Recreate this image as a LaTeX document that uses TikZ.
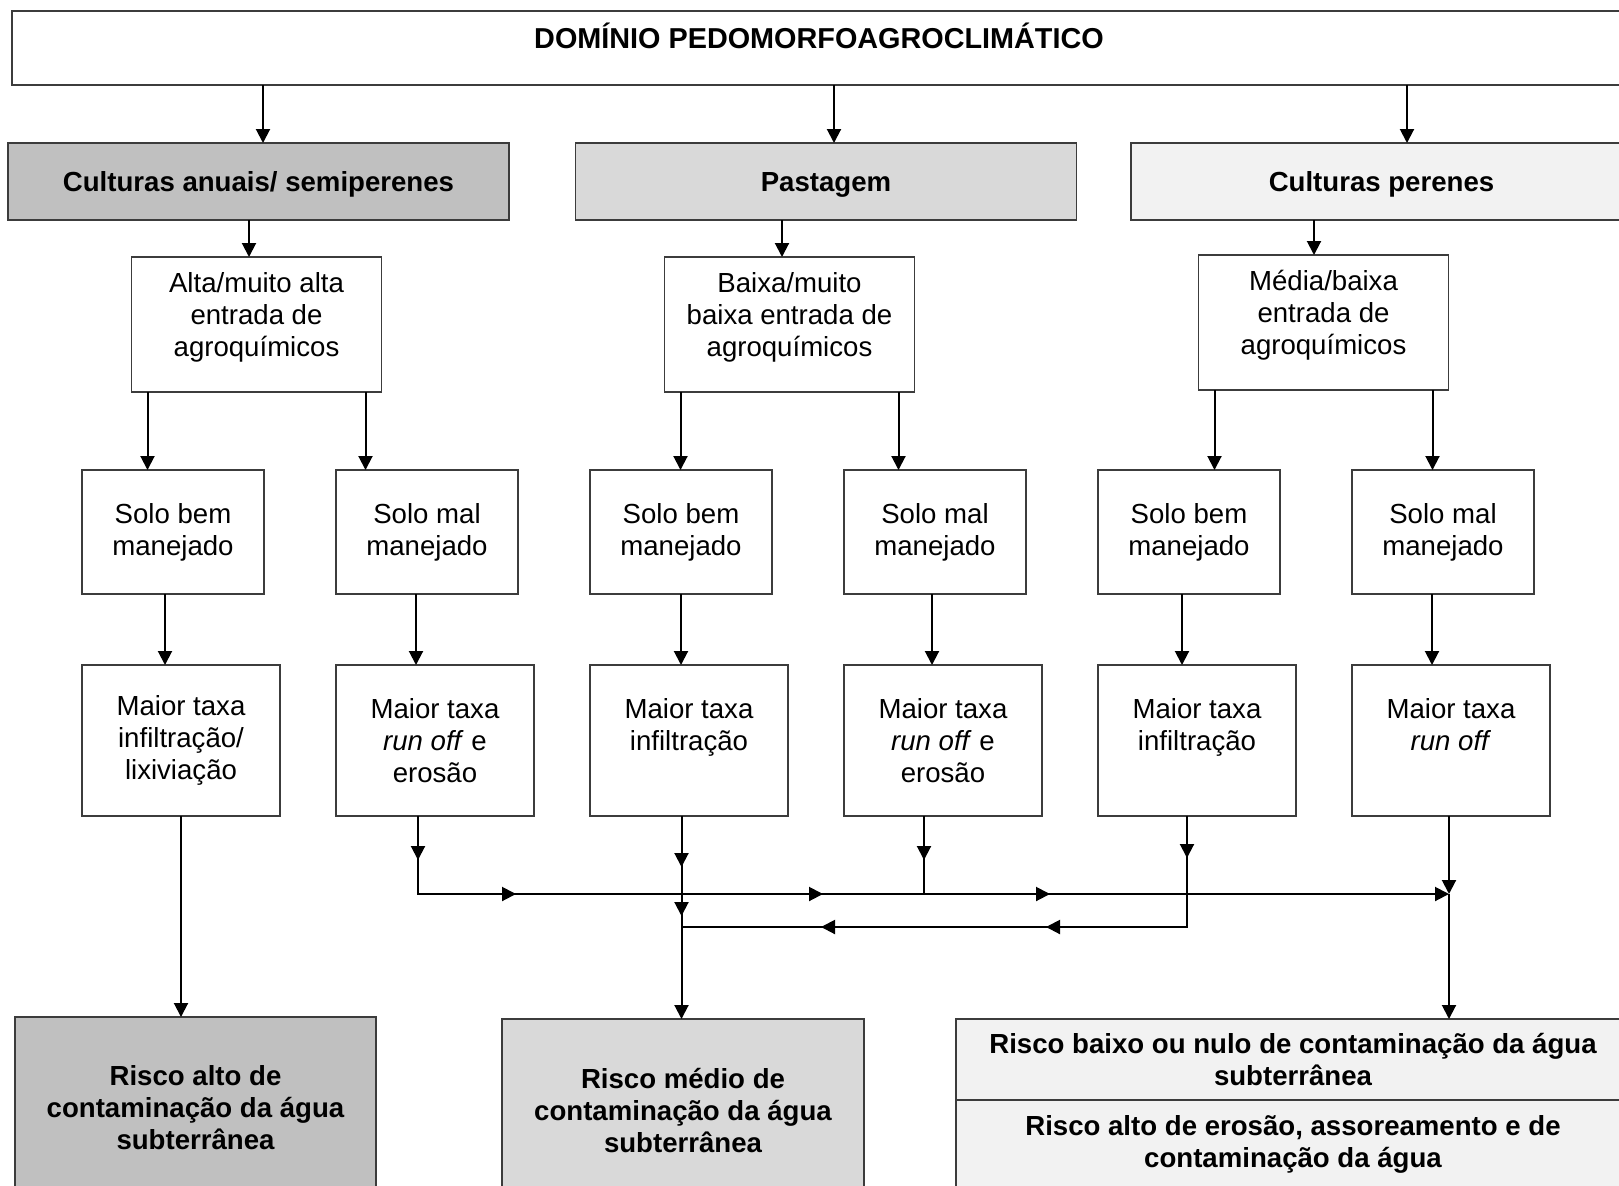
\documentclass[tikz,border=0pt]{standalone}
\usepackage{fontspec}
\setmainfont{Liberation Sans}
\usetikzlibrary{arrows.meta,positioning,decorations.markings}
\definecolor{edgegray}{RGB}{60,60,60}
\definecolor{riskhigh}{RGB}{192,192,192}
\definecolor{riskmid}{RGB}{217,217,217}
\definecolor{risklow}{RGB}{242,242,242}
\tikzset{
  box/.style={
    rectangle,
    draw=edgegray,
    line width=0.9pt,
    fill=white,
    align=center,
    outer sep=0pt,
    inner sep=2pt,
    font=\fontsize{13.8}{16}\selectfont
  },
  topbox/.style={
    box,
    font=\fontsize{14.4}{16}\selectfont\bfseries,
    minimum width=807pt,
    minimum height=37pt,
    text height=10pt,
    text depth=10pt
  },
  landuse/.style={
    box,
    font=\fontsize{13.8}{16}\selectfont\bfseries,
    minimum width=250.5pt,
    minimum height=38.5pt,
    text height=10pt,
    text depth=0pt
  },
  inbox/.style={box, minimum width=125pt, minimum height=67.5pt, text depth=10pt},
  solobox/.style={box, minimum width=91pt, minimum height=62pt},
  taxabox/.style={box, minimum width=99pt, minimum height=75.5pt},
  riskbox/.style={
    box,
    font=\fontsize{13.8}{16}\selectfont\bfseries,
    minimum width=180.5pt,
    minimum height=91pt
  },
  link/.style={line width=1pt},
  arrow/.style={link, -{Triangle[length=7pt,width=7pt]}},
  tipat/.style={postaction={decorate, decoration={markings,
    mark=at position #1 with {\arrow{Triangle[length=7pt,width=7pt]}}}}}
}

\begin{document}
\begin{tikzpicture}[x=0.5pt, y=-0.5pt]
    \useasboundingbox (0,0) rectangle (1619,1185);

    \node[topbox] (top) at (819,48) {DOMÍNIO PEDOMORFOAGROCLIMÁTICO};

    \node[landuse, fill=riskhigh] (anual) at (258.5,181.5) {Culturas anuais/ semiperenes};
    \node[landuse, fill=riskmid] (pastagem) at (826,181.5) {Pastagem};
    \node[landuse, fill=risklow] (perenes) at (1381.5,181.5) {Culturas perenes};

    \node[inbox, below=18.5pt of anual, xshift=-1pt] (alta) {Alta/muito alta\\entrada de\\agroquímicos};
    \node[inbox, below=18.5pt of pastagem, xshift=-18.25pt] (baixa) {Baixa/muito\\baixa entrada de\\agroquímicos};
    \node[inbox, below=17.5pt of perenes, xshift=-29pt] (media) {Média/baixa\\entrada de\\agroquímicos};

    \node[solobox] (solo1) at (173,532) {Solo bem\\manejado};
    \node[solobox, right=36pt of solo1] (solo2) {Solo mal\\manejado};
    \node[solobox, right=36pt of solo2] (solo3) {Solo bem\\manejado};
    \node[solobox, right=36pt of solo3] (solo4) {Solo mal\\manejado};
    \node[solobox, right=36pt of solo4] (solo5) {Solo bem\\manejado};
    \node[solobox, right=36pt of solo5] (solo6) {Solo mal\\manejado};

    \node[taxabox, below=35.5pt of solo1.south west, anchor=north west] (taxa1) {Maior taxa\\infiltração/\\lixiviação};
    \node[taxabox, below=35.5pt of solo2.south west, anchor=north west] (taxa2) {Maior taxa\\\textit{run off} e\\erosão};
    \node[taxabox, below=35.5pt of solo3.south west, anchor=north west] (taxa3) {Maior taxa\\infiltração\\\mbox{}};
    \node[taxabox, below=35.5pt of solo4.south west, anchor=north west] (taxa4) {Maior taxa\\\textit{run off} e\\erosão};
    \node[taxabox, below=35.5pt of solo5.south west, anchor=north west] (taxa5) {Maior taxa\\infiltração\\\mbox{}};
    \node[taxabox, below=35.5pt of solo6.south west, anchor=north west] (taxa6) {Maior taxa\\\textit{run off}\\\mbox{}};

    \node[riskbox, fill=riskhigh] (alto) at (195.5,1108) {Risco alto de\\contaminação da água\\subterrânea};
    \node[riskbox, fill=riskmid, minimum width=181pt] (medio) at (683,1110) {Risco médio de\\contaminação da água\\subterrânea};
    \node[riskbox, fill=risklow, minimum width=337pt, minimum height=40.5pt] (baixo) at (1293,1059.5) {Risco baixo ou nulo de contaminação da água\\subterrânea};
    \node[riskbox, fill=risklow, minimum width=337pt, minimum height=44pt, below=0pt of baixo] (erosao) {Risco alto de erosão, assoreamento e de\\contaminação da água};

    \coordinate (runoff) at ([xshift=-1pt,yshift=-39pt]taxa6.south);
    \coordinate (infil) at ([xshift=-3.75pt,yshift=-55.5pt]taxa3.south);

    % dominio -> uso
    \draw[arrow] ([xshift=2.25pt]anual.north |- top.south) -- ([xshift=2.25pt]anual.north);
    \draw[arrow] ([xshift=4pt]pastagem.north |- top.south) -- ([xshift=4pt]pastagem.north);
    \draw[arrow] ([xshift=12.75pt]perenes.north |- top.south) -- ([xshift=12.75pt]perenes.north);

    \draw[arrow] ([xshift=-3.75pt]alta.north |- anual.south) -- ([xshift=-3.75pt]alta.north);
    \draw[arrow] ([xshift=-3.75pt]baixa.north |- pastagem.south) -- ([xshift=-3.75pt]baixa.north);
    \draw[arrow] ([xshift=-4.75pt]media.north |- perenes.south) -- ([xshift=-4.75pt]media.north);

    \draw[arrow] ([xshift=-54.5pt]alta.south) -- ([xshift=-54.5pt]alta.south |- solo1.north);
    \draw[arrow] ([xshift=54.5pt]alta.south) -- ([xshift=54.5pt]alta.south |- solo2.north);
    \draw[arrow] ([xshift=-54.5pt]baixa.south) -- ([xshift=-54.5pt]baixa.south |- solo3.north);
    \draw[arrow] ([xshift=54.5pt]baixa.south) -- ([xshift=54.5pt]baixa.south |- solo4.north);
    \draw[arrow] ([xshift=-54.5pt]media.south) -- ([xshift=-54.5pt]media.south |- solo5.north);
    \draw[arrow] ([xshift=54.5pt]media.south) -- ([xshift=54.5pt]media.south |- solo6.north);

    \draw[arrow] ([xshift=-4pt]solo1.south) -- ([xshift=-4pt]solo1.south |- taxa1.north);
    \draw[arrow] ([xshift=-5.5pt]solo2.south) -- ([xshift=-5.5pt]solo2.south |- taxa2.north);
    \draw[arrow] (solo3.south) -- (solo3.south |- taxa3.north);
    \draw[arrow] ([xshift=-1.5pt]solo4.south) -- ([xshift=-1.5pt]solo4.south |- taxa4.north);
    \draw[arrow] ([xshift=-3.5pt]solo5.south) -- ([xshift=-3.5pt]solo5.south |- taxa5.north);
    \draw[arrow] ([xshift=-5.5pt]solo6.south) -- ([xshift=-5.5pt]solo6.south |- taxa6.north);

    % taxas -> riscos
    \draw[arrow] (taxa1.south) -- (taxa1.south |- alto.north);
    \draw[arrow, tipat=22pt, tipat=88pt, tipat=241.5pt, tipat=355pt] ([xshift=-8.5pt]taxa2.south) |- (runoff);
    \draw[arrow, tipat=25.5pt, tipat=50pt] ([xshift=-3.75pt]taxa3.south) -- ([xshift=-3.75pt]taxa3.south |- medio.north);
    \draw[link, tipat=22pt] ([xshift=-9.5pt]taxa4.south) -- ([xshift=-9.5pt]taxa4.south |- runoff);
    \draw[link, tipat=21pt, tipat=126pt, tipat=238.5pt] ([xshift=-5pt]taxa5.south) |- (infil);
    \draw[arrow] ([xshift=-1pt]taxa6.south) -- (runoff);
    \draw[arrow] (runoff) -- (runoff |- baixo.north);
\end{tikzpicture}
\end{document}
